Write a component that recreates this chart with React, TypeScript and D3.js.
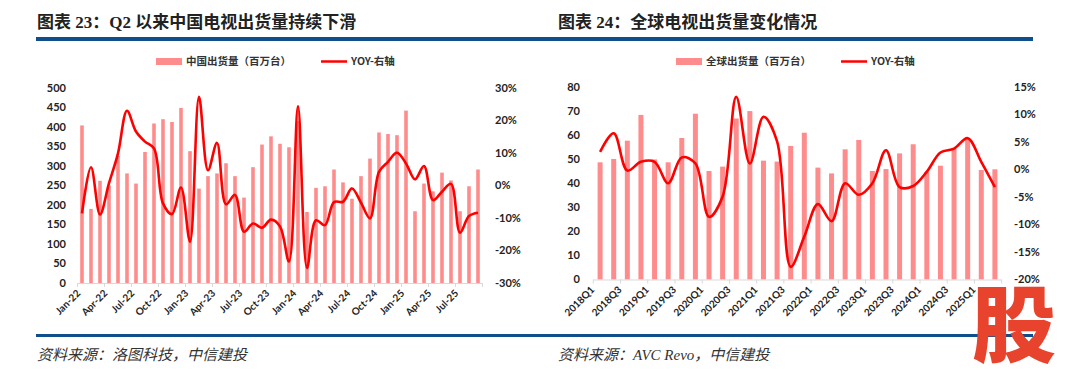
import React from "react";
import * as d3 from "d3";

// ---------- Left chart data (China, monthly) ----------
const chinaMonths = [
  "Jan-22","Feb-22","Mar-22","Apr-22","May-22","Jun-22","Jul-22","Aug-22","Sep-22","Oct-22","Nov-22","Dec-22",
  "Jan-23","Feb-23","Mar-23","Apr-23","May-23","Jun-23","Jul-23","Aug-23","Sep-23","Oct-23","Nov-23","Dec-23",
  "Jan-24","Feb-24","Mar-24","Apr-24","May-24","Jun-24","Jul-24","Aug-24","Sep-24","Oct-24","Nov-24","Dec-24",
  "Jan-25","Feb-25","Mar-25","Apr-25","May-25","Jun-25","Jul-25","Aug-25","Sep-25",
];
const chinaShipments = [
  404, 190, 262, 250, 326, 281, 255, 336, 409, 420, 413, 449,
  338, 242, 274, 281, 307, 274, 219, 297, 355, 376, 357, 348,
  415, 182, 244, 248, 291, 258, 216, 274, 319, 386, 382, 379,
  442, 184, 255, 235, 283, 263, 184, 248, 291,
];
const chinaYoY = [
  -8.6, 5.6, -8.9, 0.7, 9.9, 23.0, 16.6, 13.5, 11.4, -5.5, -8.8, -0.6,
  -17.3, 27.3, 4.7, 13.1, -5.8, -2.9, -14.2, -11.7, -13.0, -10.5, -12.6, -23.4,
  24.4, -25.4, -10.7, -12.2, -5.1, -5.0, -0.9, -5.3, -10.1, 4.2, 7.3, 10.1,
  6.8, 1.9, 6.0, -4.5, -1.9, 0.5, -14.5, -9.4, -8.4,
];
const chinaTickLabels = ["Jan-22","Apr-22","Jul-22","Oct-22","Jan-23","Apr-23","Jul-23","Oct-23","Jan-24","Apr-24","Jul-24","Oct-24","Jan-25","Apr-25","Jul-25"];
const chinaLeftTicks = [0, 50, 100, 150, 200, 250, 300, 350, 400, 450, 500];
const chinaRightTicks = [-30, -20, -10, 0, 10, 20, 30];

// ---------- Right chart data (Global, quarterly) ----------
const globalQuarters = [
  "2018Q1","2018Q2","2018Q3","2018Q4","2019Q1","2019Q2","2019Q3","2019Q4",
  "2020Q1","2020Q2","2020Q3","2020Q4","2021Q1","2021Q2","2021Q3","2021Q4",
  "2022Q1","2022Q2","2022Q3","2022Q4","2023Q1","2023Q2","2023Q3","2023Q4",
  "2024Q1","2024Q2","2024Q3","2024Q4","2025Q1","2025Q2",
];
const globalShipments = [
  48.7, 50.1, 57.7, 68.4, 49.9, 48.7, 58.8, 68.9,
  45.1, 46.9, 66.9, 70.0, 49.4, 49.0, 55.5, 61.0,
  46.5, 44.1, 54.1, 58.0, 45.1, 45.9, 52.4, 56.2,
  44.7, 47.3, 54.2, 58.3, 45.5, 45.8,
];
const globalYoY = [
  3.2, 6.6, -0.2, 1.4, 1.4, -2.5, 2.2, 1.1,
  -8.6, -4.9, 13.2, 1.1, 9.6, 5.1, -17.7, -12.2,
  -6.3, -9.4, -2.5, -4.6, -2.5, 3.5, -3.2, -3.0,
  -0.4, 3.1, 3.8, 5.7, 1.4, -3.2,
];
const globalTickLabels = ["2018Q1","2018Q3","2019Q1","2019Q3","2020Q1","2020Q3","2021Q1","2021Q3","2022Q1","2022Q3","2023Q1","2023Q3","2024Q1","2024Q3","2025Q1"];
const globalLeftTicks = [0, 10, 20, 30, 40, 50, 60, 70, 80];
const globalRightTicks = [-20, -15, -10, -5, 0, 5, 10, 15];

const BAR = "#ff8c8c";
const LINE = "#ff0000";
const BLUE = "#104e8b";
const TICK_FONT = "Lato, 'Liberation Sans', sans-serif";
const CJK = "'Noto Sans CJK SC', sans-serif";

type ChartProps = {
  cats: string[];
  bars: number[];
  yoy: number[];
  tickLabels: string[];
  leftTicks: number[];
  rightTicks: number[];
  leftDomain: [number, number];
  rightDomain: [number, number];
  x0: number; x1: number; yTop: number; yBot: number;
  leftLabelX: number; rightLabelX: number;
  barWidth: number; labelDx: number; tickEvery: number;
  legendBarLabel: string; legendX: number; legendLineX: number;
  pct: (v: number) => string;
};

function Chart(p: ChartProps) {
  const x = d3.scaleBand<string>().domain(p.cats).range([p.x0, p.x1]).padding(0);
  const yL = d3.scaleLinear().domain(p.leftDomain).range([p.yBot, p.yTop]);
  const yR = d3.scaleLinear().domain(p.rightDomain).range([p.yBot, p.yTop]);
  const cx = (c: string) => (x(c) as number) + x.bandwidth() / 2;
  const line = d3
    .line<number>()
    .x((_, i) => cx(p.cats[i]))
    .y((d) => yR(d))
    .curve(d3.curveCatmullRom.alpha(0.5));
  const tickIdx = p.cats.map((_, i) => i).filter((i) => i % p.tickEvery === 0);
  return (
    <g>
      {/* legend */}
      <rect x={p.legendX} y={58} width={26} height={7} fill={BAR} />
      <text x={p.legendX + 30} y={65} fontSize={10.5} fontWeight={700} fill="#333" fontFamily={CJK}>
        {p.legendBarLabel}
      </text>
      <line x1={p.legendLineX} x2={p.legendLineX + 26} y1={61.5} y2={61.5} stroke={LINE} strokeWidth={2.5} />
      <text x={p.legendLineX + 30} y={65} fontSize={10.5} fontWeight={700} fill="#333" fontFamily={CJK}>
        YOY-右轴
      </text>
      {/* bars */}
      {p.bars.map((v, i) => (
        <rect
          key={i}
          x={cx(p.cats[i]) - p.barWidth / 2}
          y={yL(v)}
          width={p.barWidth}
          height={yL(0) - yL(v)}
          fill={BAR}
        />
      ))}
      {/* x axis */}
      <line x1={p.x0} x2={p.x1} y1={p.yBot + 0.5} y2={p.yBot + 0.5} stroke="#d9d9d9" strokeWidth={1} />
      {tickIdx.map((i) => (
        <line key={i} x1={x(p.cats[i])} x2={x(p.cats[i])} y1={p.yBot} y2={p.yBot + 4} stroke="#d9d9d9" strokeWidth={1} />
      ))}
      <line x1={p.x1} x2={p.x1} y1={p.yBot} y2={p.yBot + 4} stroke="#d9d9d9" strokeWidth={1} />
      {/* line */}
      <path d={line(p.yoy) || ""} fill="none" stroke={LINE} strokeWidth={2.6} strokeLinejoin="round" />
      {/* left ticks */}
      {p.leftTicks.map((t) => (
        <text key={t} x={p.leftLabelX} y={yL(t)} dy="0.35em" textAnchor="end" fontSize={11} fontWeight={700} fill="#222" fontFamily={TICK_FONT}>
          {t}
        </text>
      ))}
      {p.rightTicks.map((t) => (
        <text key={t} x={p.rightLabelX} y={yR(t)} dy="0.35em" textAnchor="start" fontSize={11} fontWeight={700} fill="#222" fontFamily={TICK_FONT}>
          {p.pct(t)}
        </text>
      ))}
      {/* x labels */}
      {p.tickLabels.map((l) => {
        const px = cx(l) + p.labelDx;
        const py = p.yBot + 11;
        return (
          <text key={l} x={px} y={py} transform={`rotate(-45 ${px} ${py})`} textAnchor="end" fontSize={10} fontWeight={700} fill="#222" fontFamily={TICK_FONT}>
            {l}
          </text>
        );
      })}
    </g>
  );
}

export default function App() {
  return (
    <svg width={1080} height={377} style={{ position: "absolute", left: 0, top: 0, background: "#fff" }}>
      <rect width={1080} height={377} fill="#fff" />
      {/* titles */}
      <text x={37} y={28} fontSize={17} fontWeight={700} fill="#222" fontFamily="'Liberation Serif', 'Noto Sans CJK SC', serif">
        图表 23：Q2 以来中国电视出货量持续下滑
      </text>
      <text x={558} y={28} fontSize={17} fontWeight={700} fill="#222" fontFamily="'Liberation Serif', 'Noto Sans CJK SC', serif">
        图表 24：全球电视出货量变化情况
      </text>
      <rect x={36} y={37} width={997} height={4} fill={BLUE} />
      <rect x={36} y={334} width={997} height={3} fill={BLUE} />

      <Chart
        cats={chinaMonths}
        bars={chinaShipments}
        yoy={chinaYoY}
        tickLabels={chinaTickLabels}
        leftTicks={chinaLeftTicks}
        rightTicks={chinaRightTicks}
        leftDomain={[0, 500]}
        rightDomain={[-30, 30]}
        x0={77.5}
        x1={482.5}
        yTop={88}
        yBot={283}
        leftLabelX={66}
        rightLabelX={495}
        barWidth={3.6}
        labelDx={-1}
        tickEvery={3}
        legendBarLabel="中国出货量（百万台）"
        legendX={156}
        legendLineX={321}
        pct={(v) => `${v}%`}
      />
      <Chart
        cats={globalQuarters}
        bars={globalShipments}
        yoy={globalYoY}
        tickLabels={globalTickLabels}
        leftTicks={globalLeftTicks}
        rightTicks={globalRightTicks}
        leftDomain={[0, 80]}
        rightDomain={[-20, 15]}
        x0={593.3}
        x1={1001.7}
        yTop={87}
        yBot={279.5}
        leftLabelX={580}
        rightLabelX={1014}
        barWidth={5}
        labelDx={-5}
        tickEvery={2}
        legendBarLabel="全球出货量（百万台）"
        legendX={676}
        legendLineX={841}
        pct={(v) => `${v}%`}
      />

      {/* sources */}
      <text x={37} y={360} fontSize={15} fontStyle="italic" fill="#333" fontFamily="'Liberation Serif', 'Noto Sans CJK SC', serif">
        资料来源：洛图科技，中信建投
      </text>
      <text x={558} y={360} fontSize={15} fontStyle="italic" fill="#333" fontFamily="'Liberation Serif', 'Noto Sans CJK SC', serif">
        资料来源：AVC Revo，中信建投
      </text>

      {/* watermark */}
      <text x={1014} y={356} textAnchor="middle" fontSize={84} fontWeight={900} fill="#e8432d" fontFamily={CJK}>
        股
      </text>
    </svg>
  );
}
